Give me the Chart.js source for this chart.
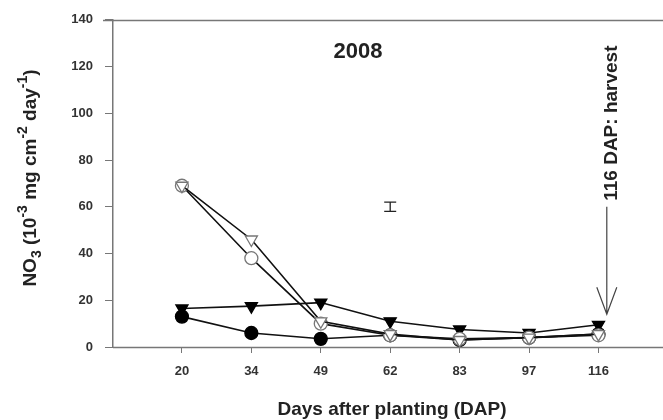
<!DOCTYPE html>
<html><head><meta charset="utf-8">
<script src="https://cdn.jsdelivr.net/npm/chart.js@4"></script>
<style>html,body{margin:0;padding:0;background:#fff;overflow:hidden}#w{width:663px;height:420px}</style>
</head><body><div id="w"><canvas id="c"></canvas></div>
<script>
const categories = ['20', '34', '49', '62', '83', '97', '116'];
const yTicks = [0, 20, 40, 60, 80, 100, 120, 140];
const filledCircle = [13, 6, 3.5, 5, 3, 4, 5.5];
const openCircle = [69, 38, 10, 5, 3.5, 4, 5];
const openTriangle = [69, 46, 11, 5.5, 3, 4, 5.5];
const filledTriangle = [16.5, 17.5, 19, 11, 7.5, 6, 9.5];
const errorBarX = [3];
const errorBarY = [60];
const errorBarHalf = [2];
const yearLabel = '2008';
const harvestText = '116 DAP: harvest';
const harvestArrowX = [6.12];
const harvestArrowY = [60, 14];
const xTitle = 'Days after planting (DAP)';

const pts = arr => arr.map((v, i) => ({x: i, y: v}));
const FONT = '"Liberation Sans", Arial, sans-serif';

const overlay = {
  id: 'overlay',
  afterDraw(chart) {
    const ctx = chart.ctx, xs = chart.scales.x, ys = chart.scales.y, a = chart.chartArea;
    const W = chart.width;
    ctx.save();
    ctx.strokeStyle = '#777'; ctx.lineWidth = 1.5;
    ctx.beginPath();
    ctx.moveTo(a.left - 10, Math.round(a.top) + 0.5); ctx.lineTo(W, Math.round(a.top) + 0.5);
    ctx.moveTo(a.left, Math.round(a.bottom) + 0.5); ctx.lineTo(W, Math.round(a.bottom) + 0.5);
    ctx.stroke();
    ctx.strokeStyle = '#222'; ctx.lineWidth = 1.3;
    errorBarX.forEach((xv, i) => {
      const px = xs.getPixelForValue(xv);
      const t = ys.getPixelForValue(errorBarY[i] + errorBarHalf[i]);
      const b = ys.getPixelForValue(errorBarY[i] - errorBarHalf[i]);
      ctx.beginPath();
      ctx.moveTo(px - 6, t); ctx.lineTo(px + 6, t);
      ctx.moveTo(px - 6, b); ctx.lineTo(px + 6, b);
      ctx.moveTo(px, t); ctx.lineTo(px, b);
      ctx.stroke();
    });
    const ax = xs.getPixelForValue(harvestArrowX[0]);
    const ay0 = ys.getPixelForValue(harvestArrowY[0]);
    const ay1 = ys.getPixelForValue(harvestArrowY[1]);
    ctx.strokeStyle = '#444'; ctx.lineWidth = 1.2;
    ctx.beginPath();
    ctx.moveTo(ax, ay0); ctx.lineTo(ax, ay1);
    ctx.moveTo(ax - 10, ay1 - 27); ctx.lineTo(ax, ay1); ctx.lineTo(ax + 10, ay1 - 27);
    ctx.stroke();
    ctx.fillStyle = '#222';
    ctx.font = 'bold 19px ' + FONT;
    ctx.save();
    ctx.translate(ax + 5, ay0 - 6);
    ctx.rotate(-Math.PI / 2);
    ctx.textAlign = 'left'; ctx.textBaseline = 'middle';
    ctx.fillText(harvestText, 0, 0);
    ctx.restore();
    ctx.font = 'bold 22px ' + FONT;
    ctx.textAlign = 'center'; ctx.textBaseline = 'middle';
    ctx.fillText(yearLabel, 358, 52);
    ctx.font = 'bold 19px ' + FONT;
    ctx.fillText(xTitle, 392, 410);
    ctx.save();
    ctx.translate(31, 178);
    ctx.rotate(-Math.PI / 2);
    const parts = [
      ['NO', 0], ['3', 1], [' (10', 0], ['-3', -1], [' mg cm', 0], ['-2', -1], [' day', 0], ['-1', -1], [')', 0]
    ];
    const big = 'bold 19px ' + FONT, small = 'bold 14px ' + FONT;
    let total = 0;
    parts.forEach(p => { ctx.font = p[1] ? small : big; total += ctx.measureText(p[0]).width; });
    let x = -total / 2;
    ctx.textAlign = 'left'; ctx.textBaseline = 'middle';
    parts.forEach(p => {
      ctx.font = p[1] ? small : big;
      const dy = p[1] === 1 ? 6 : (p[1] === -1 ? -8 : 0);
      ctx.fillText(p[0], x, dy);
      x += ctx.measureText(p[0]).width;
    });
    ctx.restore();
    ctx.restore();
  }
};

const common = {borderColor: '#111', borderWidth: 1.6, pointRadius: 6.5, pointBorderWidth: 1.3, showLine: true, tension: 0};

new Chart(document.getElementById('c'), {
  type: 'scatter',
  data: {
    datasets: [
      {...common, label: 'openTriangle', data: pts(openTriangle), pointStyle: 'triangle', rotation: 180, pointBackgroundColor: '#fff', pointBorderColor: '#777', pointRadius: 7},
      {...common, label: 'openCircle', data: pts(openCircle), pointStyle: 'circle', pointBackgroundColor: '#fff', pointBorderColor: '#777'},
      {...common, label: 'filledTriangle', data: pts(filledTriangle), pointStyle: 'triangle', rotation: 180, pointBackgroundColor: '#000', pointBorderColor: '#000', pointRadius: 7},
      {...common, label: 'filledCircle', data: pts(filledCircle), pointStyle: 'circle', pointBackgroundColor: '#000', pointBorderColor: '#000'}
    ]
  },
  options: {
    responsive: true, maintainAspectRatio: false, animation: false,
    layout: {padding: {top: 18, right: 0, left: 0, bottom: 0}},
    plugins: {legend: {display: false}, tooltip: {enabled: false}},
    scales: {
      x: {
        type: 'linear', min: -0.993, max: 6.81,
        afterBuildTicks: s => { s.ticks = categories.map((c, i) => ({value: i})); },
        afterFit: s => { s.height = 73; },
        grid: {drawOnChartArea: false, drawTicks: true, tickLength: 6, tickColor: '#777'},
        border: {display: false},
        ticks: {callback: v => categories[v], color: '#333', font: {family: FONT, size: 13, weight: 'bold'}, padding: 11, maxRotation: 0, autoSkip: false}
      },
      y: {
        type: 'linear', min: 0, max: 140,
        afterBuildTicks: s => { s.ticks = yTicks.map(v => ({value: v})); },
        afterFit: s => { s.width = 113; },
        grid: {drawOnChartArea: false, drawTicks: true, tickLength: 8, tickColor: '#777'},
        border: {color: '#777', width: 1.5},
        ticks: {color: '#333', font: {family: FONT, size: 13, weight: 'bold'}, padding: 12}
      }
    }
  },
  plugins: [overlay]
});
</script></body></html>
